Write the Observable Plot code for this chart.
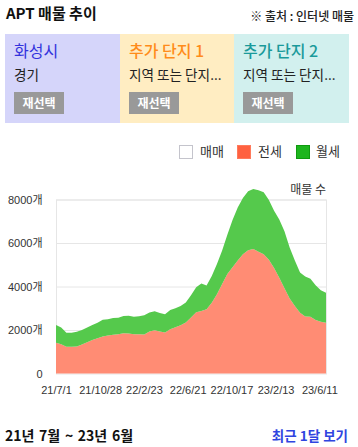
<!DOCTYPE html>
<html><head><meta charset="utf-8">
<script src="https://cdn.jsdelivr.net/npm/d3@7"></script>
<script src="https://cdn.jsdelivr.net/npm/@observablehq/plot@0.6"></script>
<style>
body{margin:0;width:358px;height:447px;position:relative;background:#fff;font-family:"Noto Sans CJK KR","Noto Sans",sans-serif;color:#222;overflow:hidden}
.abs{position:absolute;white-space:nowrap}
.panel{position:absolute;top:34px;height:89px}
.ptitle{position:absolute;left:9px;top:6px;font-size:16px;line-height:20px}
.psub{position:absolute;left:9px;top:31px;font-size:13.6px;line-height:18px;color:#222}
.btn{position:absolute;left:9px;top:58px;width:50px;height:22px;background:#999;color:#fff;font-weight:bold;font-size:12px;line-height:22px;text-align:center}
.sw{position:absolute;top:145px;width:12px;height:12px;border:1px solid}
.lt{position:absolute;top:142px;font-size:13px;line-height:18px;color:#333}
#chart{position:absolute;left:0;top:165px}
</style></head><body>
<div class="abs" style="left:6px;top:2px;font-size:15px;font-weight:bold;line-height:22px;color:#111">APT 매물 추이</div>
<div class="abs" style="right:4px;top:8px;font-size:12px;font-weight:500;line-height:16px;color:#222">※ 출처 : 인터넷 매물</div>

<div class="panel" style="left:5px;width:115px;background:#D5D5FA">
  <div class="ptitle" style="color:#3333DD">화성시</div>
  <div class="psub">경기</div>
  <div class="btn">재선택</div>
</div>
<div class="panel" style="left:120px;width:114px;background:#FFEDC2">
  <div class="ptitle" style="color:#FF8C1A;font-weight:500">추가 단지 1</div>
  <div class="psub">지역 또는 단지...</div>
  <div class="btn">재선택</div>
</div>
<div class="panel" style="left:234px;width:115px;background:#D2F0EE">
  <div class="ptitle" style="color:#1A9A9A;font-weight:500">추가 단지 2</div>
  <div class="psub">지역 또는 단지...</div>
  <div class="btn">재선택</div>
</div>

<div class="sw" style="left:179px;background:#fff;border-color:#c4c4cc"></div>
<div class="lt" style="left:200px">매매</div>
<div class="sw" style="left:237px;background:#FF6140;border-color:#FF7A5C"></div>
<div class="lt" style="left:258px">전세</div>
<div class="sw" style="left:296px;background:#1DB51D;border-color:#0F9A0F"></div>
<div class="lt" style="left:316px">월세</div>

<div id="chart"></div>
<div class="abs" style="right:32px;top:181px;font-size:12px;line-height:16px;color:#333">매물 수</div>

<div class="abs" style="left:5px;top:425px;font-size:14px;font-weight:bold;line-height:20px;color:#111;word-spacing:1.5px">21년 7월 ~ 23년 6월</div>
<div class="abs" style="right:10px;top:425px;font-size:13.5px;font-weight:bold;line-height:20px;color:#2F45E0">최근 1달 보기</div>

<script>
// biweekly samples starting 2021-07-01
const startDate = "2021-07-01";
const stepDays = 14;
const totalListings = [2230,2120,1876,1876,1922,2000,2120,2230,2330,2470,2500,2552,2560,2640,2660,2612,2630,2680,2800,2860,2780,2720,2920,3000,3100,3260,3600,3960,4140,4050,4480,5030,5650,6380,7060,7630,8070,8380,8480,8430,8330,7980,7480,7080,6540,5790,5200,4640,4460,4360,4060,3830,3715];
const jeonse = [1416,1340,1232,1232,1240,1330,1440,1540,1620,1700,1745,1780,1810,1848,1840,1802,1805,1790,1930,1990,1930,1880,2030,2130,2220,2350,2580,2820,2870,2950,3250,3640,4120,4580,4880,5200,5480,5670,5720,5600,5480,5230,4850,4400,3920,3450,3100,2790,2615,2612,2460,2380,2336];
const seriesNames = ["매매","전세","월세"];
const seriesColors = ["#ffffff","#FF8C74","#55C94C"];
const xTickDates = ["2021-07-01","2021-10-28","2022-02-23","2022-06-21","2022-10-17","2023-02-13","2023-06-11"];
const xTickLabels = ["21/7/1","21/10/28","22/2/23","22/6/21","22/10/17","23/2/13","23/6/11"];
const yTicks = [0,2000,4000,6000,8000];
const yTickLabels = ["0","2000개","4000개","6000개","8000개"];

const parse = d3.utcParse("%Y-%m-%d");
const t0 = parse(startDate);
const rows = [];
totalListings.forEach((tot, i) => {
  const date = d3.utcDay.offset(t0, i * stepDays);
  rows.push({date, type: "전세", value: jeonse[i]});
  rows.push({date, type: "월세", value: tot - jeonse[i]});
});
const tickDates = xTickDates.map(parse);

const chart = Plot.plot({
  width: 358,
  height: 235,
  marginLeft: 56,
  marginRight: 32,
  marginTop: 34.5,
  marginBottom: 26.5,
  style: {fontFamily: "'Liberation Sans','Noto Sans CJK KR',sans-serif", fontSize: "11px", color: "#333", background: "transparent"},
  x: {type: "utc", domain: [t0, parse("2023-06-29")], ticks: tickDates,
      tickFormat: d => xTickLabels[tickDates.findIndex(t => +t === +d)], label: null},
  y: {domain: [0, 8000], ticks: yTicks, tickFormat: d => yTickLabels[yTicks.indexOf(d)], label: null},
  color: {domain: seriesNames, range: seriesColors},
  marks: [
    Plot.gridY(yTicks.slice(1), {stroke: "#e6e6e6", strokeOpacity: 1}),
    Plot.frame({stroke: "#e6e6e6"}),
    Plot.areaY(rows, {x: "date", y: "value", fill: "type", order: ["전세","월세"], curve: "linear"}),
    Plot.axisY({ticks: yTicks, tickSize: 0, tickPadding: 14, tickFormat: d => yTickLabels[yTicks.indexOf(d)], fill: "#333"}),
    Plot.axisX({ticks: tickDates, tickSize: 0, tickPadding: 12, tickFormat: d => xTickLabels[tickDates.findIndex(t => +t === +d)], fill: "#333"})
  ]
});
document.getElementById("chart").appendChild(chart);
</script>
</body></html>
